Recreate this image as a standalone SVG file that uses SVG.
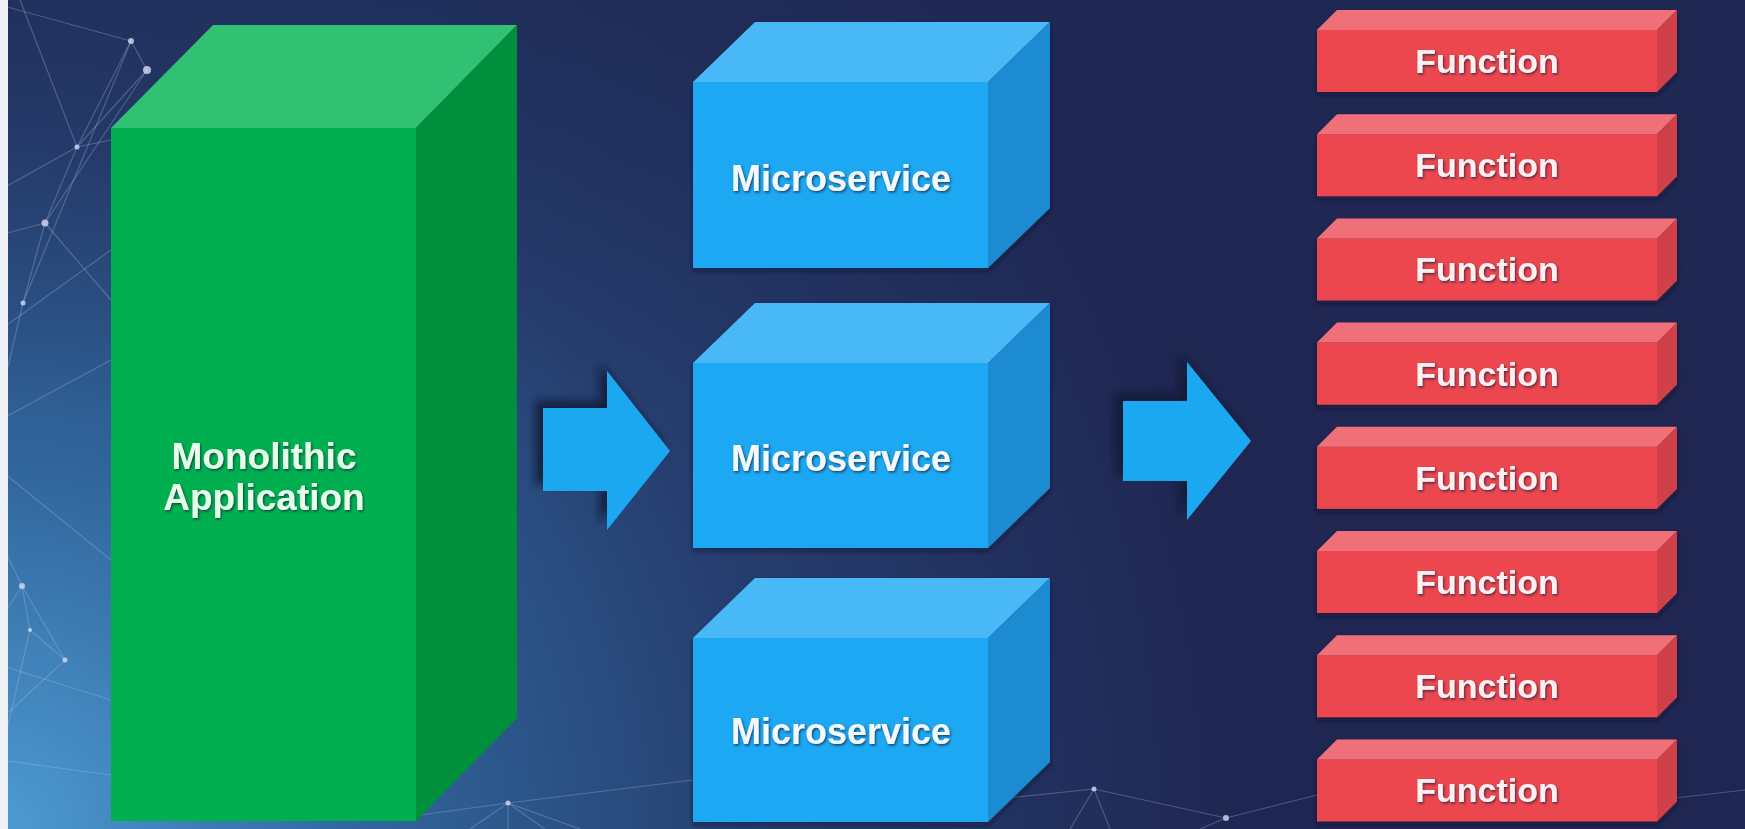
<svg xmlns="http://www.w3.org/2000/svg" width="1745" height="829" viewBox="0 0 1745 829">
  <defs>
    <radialGradient id="bg" cx="0" cy="829" r="1250" gradientUnits="userSpaceOnUse">
      <stop offset="0" stop-color="#4d9bd3"/>
      <stop offset="0.3" stop-color="#30649a"/>
      <stop offset="0.6" stop-color="#263f70"/>
      <stop offset="1" stop-color="#1f2651"/>
    </radialGradient>
    <linearGradient id="topShade" x1="0" y1="0" x2="0" y2="1">
      <stop offset="0" stop-color="#1f2a55" stop-opacity="0.6"/>
      <stop offset="0.5" stop-color="#1f2a55" stop-opacity="0"/>
    </linearGradient>
    <filter id="arrowShadow" x="-30%" y="-30%" width="160%" height="160%">
      <feDropShadow dx="-7" dy="-7" stdDeviation="4" flood-color="#0b1330" flood-opacity="0.85"/>
    </filter>
    <filter id="boxShadow" x="-10%" y="-10%" width="120%" height="130%">
      <feDropShadow dx="0" dy="3" stdDeviation="2.5" flood-color="#0b1330" flood-opacity="0.6"/>
    </filter>
    <filter id="txtShadow" x="-10%" y="-30%" width="120%" height="160%">
      <feDropShadow dx="1.2" dy="1.5" stdDeviation="0.8" flood-color="#1a2440" flood-opacity="0.75"/>
    </filter>
  </defs>
  <style>
    .lbl { font-family: "Liberation Sans", Arial, sans-serif; font-weight: bold; text-anchor: middle; filter: url(#txtShadow); }
    .g-front { fill: #00b050; } .g-top { fill: #31c172; } .g-side { fill: #008f3b; }
    .b-front { fill: #1ba8f2; } .b-top { fill: #4ab8f6; } .b-side { fill: #1a8bd2; }
    .r-front { fill: #ec4650; } .r-top { fill: #f0707a; } .r-side { fill: #cf3f48; }
    .arrow { fill: #1fa7f1; filter: url(#arrowShadow); }
    .net line { stroke: #b7bde8; stroke-width: 1.2; stroke-opacity: 0.3; }
    .net circle { fill: #d6dbf5; fill-opacity: 0.8; }
    .mono { fill: #e6ffe9; font-size: 37px; }
    .micro { fill: #f2faff; font-size: 36px; }
    .func { fill: #fff1f1; font-size: 34px; }
  </style>

  <rect x="0" y="0" width="1745" height="829" fill="url(#bg)"/>
  <rect x="0" y="0" width="1745" height="829" fill="url(#topShade)"/>

  <g class="net">
    <line x1="0" y1="5" x2="131" y2="41"/>
    <line x1="20" y1="0" x2="77" y2="147"/>
    <line x1="131" y1="41" x2="147" y2="70"/>
    <line x1="131" y1="41" x2="77" y2="147"/>
    <line x1="147" y1="70" x2="77" y2="147"/>
    <line x1="147" y1="70" x2="45" y2="223"/>
    <line x1="131" y1="41" x2="23" y2="303"/>
    <line x1="77" y1="147" x2="45" y2="223"/>
    <line x1="77" y1="147" x2="111" y2="140"/>
    <line x1="0" y1="190" x2="77" y2="147"/>
    <line x1="45" y1="223" x2="23" y2="303"/>
    <line x1="0" y1="235" x2="45" y2="223"/>
    <line x1="45" y1="223" x2="111" y2="300"/>
    <line x1="0" y1="330" x2="111" y2="250"/>
    <line x1="23" y1="303" x2="0" y2="400"/>
    <line x1="0" y1="420" x2="111" y2="360"/>
    <line x1="0" y1="470" x2="111" y2="560"/>
    <line x1="22" y1="586" x2="30" y2="630"/>
    <line x1="22" y1="586" x2="0" y2="620"/>
    <line x1="22" y1="586" x2="65" y2="660"/>
    <line x1="30" y1="630" x2="65" y2="660"/>
    <line x1="30" y1="630" x2="0" y2="760"/>
    <line x1="65" y1="660" x2="0" y2="720"/>
    <line x1="0" y1="540" x2="22" y2="586"/>
    <line x1="0" y1="665" x2="111" y2="700"/>
    <line x1="0" y1="760" x2="111" y2="775"/>
    <line x1="508" y1="803" x2="470" y2="829"/>
    <line x1="508" y1="803" x2="508" y2="829"/>
    <line x1="508" y1="803" x2="545" y2="829"/>
    <line x1="508" y1="803" x2="580" y2="829"/>
    <line x1="508" y1="803" x2="420" y2="815"/>
    <line x1="508" y1="803" x2="693" y2="780"/>
    <line x1="1094" y1="789" x2="1226" y2="818"/>
    <line x1="1094" y1="789" x2="988" y2="800"/>
    <line x1="1094" y1="789" x2="1070" y2="829"/>
    <line x1="1094" y1="789" x2="1110" y2="829"/>
    <line x1="1226" y1="818" x2="1317" y2="795"/>
    <line x1="1226" y1="818" x2="1200" y2="829"/>
    <line x1="1657" y1="800" x2="1745" y2="790"/>
    <circle cx="131" cy="41" r="3"/>
    <circle cx="147" cy="70" r="4"/>
    <circle cx="77" cy="147" r="2.5"/>
    <circle cx="45" cy="223" r="3.5"/>
    <circle cx="23" cy="303" r="2.5"/>
    <circle cx="22" cy="586" r="3"/>
    <circle cx="30" cy="630" r="2"/>
    <circle cx="65" cy="660" r="2.5"/>
    <circle cx="508" cy="803" r="2.5"/>
    <circle cx="1094" cy="789" r="2.5"/>
    <circle cx="1226" cy="818" r="3"/>
  </g>

  <rect x="0" y="0" width="8" height="829" fill="#eef2f7"/>

  <g id="connectors">
    <polygon id="arrow1" class="arrow" points="543,408 607,408 607,371 670,451 607,530 607,491 543,491"/>
    <polygon id="arrow2" class="arrow" points="1123,401 1187,401 1187,362 1251,441 1187,520 1187,481 1123,481"/>
  </g>

  <g id="monolith">
    <rect class="g-front" x="111" y="128" width="305" height="693"/>
    <polygon class="g-top" points="111,128 213,25 517,25 416,128"/>
    <polygon class="g-side" points="416,128 517,25 517,718 416,821"/>
    <text class="lbl mono" x="264" y="469">Monolithic</text>
    <text class="lbl mono" x="264" y="510">Application</text>
  </g>

  <g id="micro1" filter="url(#boxShadow)">
    <rect class="b-front" x="693" y="82" width="295" height="186"/>
    <polygon class="b-top" points="693,82 755,22 1050,22 988,82"/>
    <polygon class="b-side" points="988,82 1050,22 1050,208 988,268"/>
  </g>
  <g id="micro1-label"><text class="lbl micro" x="841" y="191">Microservice</text></g>

  <g id="micro2" filter="url(#boxShadow)">
    <rect class="b-front" x="693" y="363" width="295" height="185"/>
    <polygon class="b-top" points="693,363 755,303 1050,303 988,363"/>
    <polygon class="b-side" points="988,363 1050,303 1050,488 988,548"/>
  </g>
  <g id="micro2-label"><text class="lbl micro" x="841" y="471">Microservice</text></g>

  <g id="micro3" filter="url(#boxShadow)">
    <rect class="b-front" x="693" y="638" width="295" height="184"/>
    <polygon class="b-top" points="693,638 755,578 1050,578 988,638"/>
    <polygon class="b-side" points="988,638 1050,578 1050,762 988,822"/>
  </g>
  <g id="micro3-label"><text class="lbl micro" x="841" y="744">Microservice</text></g>

  <g id="func1" filter="url(#boxShadow)">
    <rect class="r-front" x="1317" y="30" width="340" height="62"/>
    <polygon class="r-top" points="1317,30 1337,10 1677,10 1657,30"/>
    <polygon class="r-side" points="1657,30 1677,10 1677,72 1657,92"/>
  </g>
  <g id="func2" filter="url(#boxShadow)">
    <rect class="r-front" x="1317" y="134.2" width="340" height="62"/>
    <polygon class="r-top" points="1317,134.2 1337,114.2 1677,114.2 1657,134.2"/>
    <polygon class="r-side" points="1657,134.2 1677,114.2 1677,176.2 1657,196.2"/>
  </g>
  <g id="func3" filter="url(#boxShadow)">
    <rect class="r-front" x="1317" y="238.4" width="340" height="62"/>
    <polygon class="r-top" points="1317,238.4 1337,218.4 1677,218.4 1657,238.4"/>
    <polygon class="r-side" points="1657,238.4 1677,218.4 1677,280.4 1657,300.4"/>
  </g>
  <g id="func4" filter="url(#boxShadow)">
    <rect class="r-front" x="1317" y="342.6" width="340" height="62"/>
    <polygon class="r-top" points="1317,342.6 1337,322.6 1677,322.6 1657,342.6"/>
    <polygon class="r-side" points="1657,342.6 1677,322.6 1677,384.6 1657,404.6"/>
  </g>
  <g id="func5" filter="url(#boxShadow)">
    <rect class="r-front" x="1317" y="446.8" width="340" height="62"/>
    <polygon class="r-top" points="1317,446.8 1337,426.8 1677,426.8 1657,446.8"/>
    <polygon class="r-side" points="1657,446.8 1677,426.8 1677,488.8 1657,508.8"/>
  </g>
  <g id="func6" filter="url(#boxShadow)">
    <rect class="r-front" x="1317" y="551" width="340" height="62"/>
    <polygon class="r-top" points="1317,551 1337,531 1677,531 1657,551"/>
    <polygon class="r-side" points="1657,551 1677,531 1677,593 1657,613"/>
  </g>
  <g id="func7" filter="url(#boxShadow)">
    <rect class="r-front" x="1317" y="655.2" width="340" height="62"/>
    <polygon class="r-top" points="1317,655.2 1337,635.2 1677,635.2 1657,655.2"/>
    <polygon class="r-side" points="1657,655.2 1677,635.2 1677,697.2 1657,717.2"/>
  </g>
  <g id="func8" filter="url(#boxShadow)">
    <rect class="r-front" x="1317" y="759.4" width="340" height="62"/>
    <polygon class="r-top" points="1317,759.4 1337,739.4 1677,739.4 1657,759.4"/>
    <polygon class="r-side" points="1657,759.4 1677,739.4 1677,801.4 1657,821.4"/>
  </g>

  <g id="func-labels">
    <text class="lbl func" x="1487" y="73">Function</text>
    <text class="lbl func" x="1487" y="177.2">Function</text>
    <text class="lbl func" x="1487" y="281.4">Function</text>
    <text class="lbl func" x="1487" y="385.6">Function</text>
    <text class="lbl func" x="1487" y="489.8">Function</text>
    <text class="lbl func" x="1487" y="594">Function</text>
    <text class="lbl func" x="1487" y="698.2">Function</text>
    <text class="lbl func" x="1487" y="802.4">Function</text>
  </g>
</svg>
